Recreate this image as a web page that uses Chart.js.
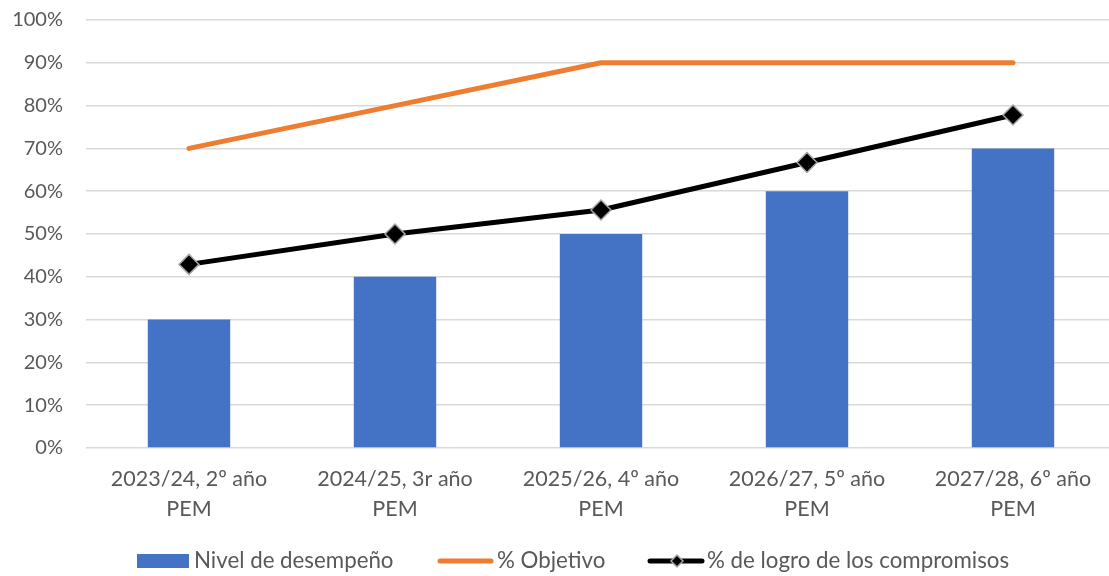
<!DOCTYPE html>
<html><head><meta charset="utf-8">
<script src="https://cdn.jsdelivr.net/npm/chart.js@4"></script>
<style>html,body{margin:0;padding:0;background:#fff;overflow:hidden;width:1109px;height:576px}canvas{display:block;margin-top:-15px}</style>
</head><body>
<canvas id="c" width="1116" height="591"></canvas>
<script>
const categories = [["2023/24, 2º año","PEM"],["2024/25, 3r año","PEM"],["2025/26, 4º año","PEM"],["2026/27, 5º año","PEM"],["2027/28, 6º año","PEM"]];
const nivelDesempeno = [30, 40, 50, 60, 70];
const objetivo = [70, 80, 90, 90, 90];
const logro = [42.9, 50, 55.6, 66.7, 77.8];
const seriesNames = ["Nivel de desempeño", "% Objetivo", "% de logro de los compromisos"];

const FONT = "Lato";
const TXT = "#595959";

const legendPlugin = {
  id: 'customLegend',
  afterDraw(chart) {
    const ctx = chart.ctx;
    ctx.save();
    ctx.font = "22.3px " + FONT;
    ctx.textBaseline = "middle";
    const y = 576;
    ctx.fillStyle = "#4472C4";
    ctx.fillRect(137, y - 7, 52, 14);
    ctx.fillStyle = TXT;
    ctx.fillText(seriesNames[0], 194, y);
    ctx.strokeStyle = "#ED7D31"; ctx.lineWidth = 5; ctx.lineCap = "round";
    ctx.beginPath(); ctx.moveTo(440, y); ctx.lineTo(491, y); ctx.stroke();
    ctx.fillText(seriesNames[1], 497, y);
    ctx.strokeStyle = "#000"; ctx.beginPath(); ctx.moveTo(650, y); ctx.lineTo(702, y); ctx.stroke();
    ctx.beginPath();
    ctx.moveTo(677, y - 6); ctx.lineTo(683, y); ctx.lineTo(677, y + 6); ctx.lineTo(671, y); ctx.closePath();
    ctx.fillStyle = "#000"; ctx.fill(); ctx.lineWidth = 1.5; ctx.strokeStyle = "#A5A5A5"; ctx.stroke();
    ctx.fillStyle = TXT;
    ctx.fillText(seriesNames[2], 707, y);
    ctx.restore();
  }
};

new Chart(document.getElementById('c'), {
  data: {
    labels: categories,
    datasets: [
      { type: 'line', label: seriesNames[2], data: logro, borderColor: '#000', borderWidth: 5,
        pointStyle: 'rectRot', pointRadius: 10, pointBackgroundColor: '#000', pointBorderColor: '#A5A5A5',
        pointBorderWidth: 1.5, order: 0, borderCapStyle: 'round', borderJoinStyle: 'round' },
      { type: 'line', label: seriesNames[1], data: objetivo, borderColor: '#ED7D31', borderWidth: 5,
        pointRadius: 0, order: 1, borderCapStyle: 'round', borderJoinStyle: 'round' },
      { type: 'bar', label: seriesNames[0], data: nivelDesempeno, backgroundColor: '#4472C4',
        categoryPercentage: 1, barPercentage: 0.4, order: 2 }
    ]
  },
  options: {
    responsive: false, animation: false,
    layout: { autoPadding: false, padding: { top: 20, left: 0, right: 0, bottom: 0 } },
    plugins: { legend: { display: false }, tooltip: { enabled: false } },
    scales: {
      x: {
        grid: { display: false }, border: { display: false },
        ticks: { color: TXT, font: { family: FONT, size: 21.5, lineHeight: 1.4 }, padding: 8, maxRotation: 0, autoSkip: false },
        afterFit(s) { s.height = 128; }
      },
      y: {
        min: 0, max: 100,
        grid: { color: '#D9D9D9', lineWidth: 1.5, drawTicks: false }, border: { display: false },
        ticks: { stepSize: 10, color: TXT, font: { family: FONT, size: 20 }, padding: 23, callback: v => v + '%' },
        afterFit(s) { s.width = 86; }
      }
    }
  },
  plugins: [legendPlugin]
});
</script>
</body></html>
